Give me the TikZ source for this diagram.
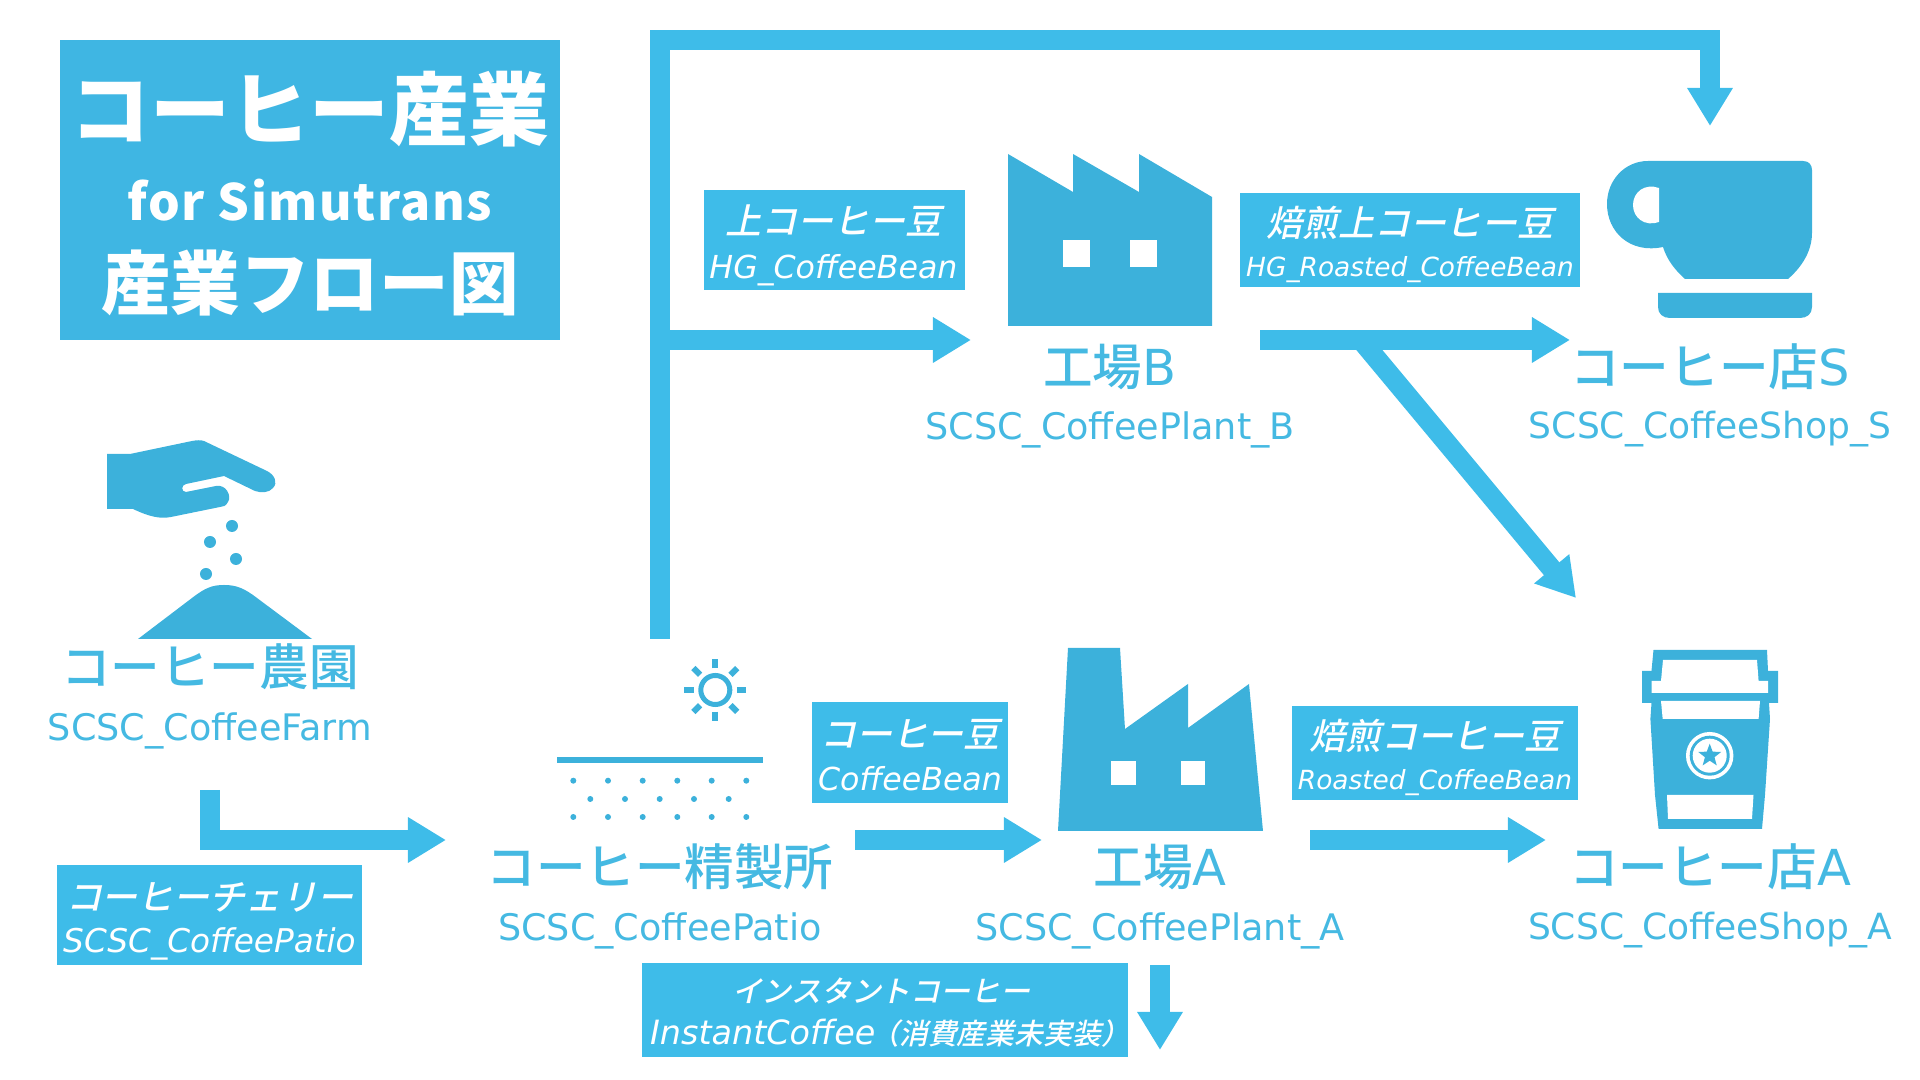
\documentclass[tikz,border=0pt]{standalone}
\usepackage{fontspec}
\setmainfont{DejaVu Sans}
\newfontfamily\cjkfont{Noto Sans CJK JP Medium}
\newfontfamily\cjktitle{Noto Sans CJK JP}
\newfontfamily\cjkslant[FakeSlant=0.22]{Noto Sans CJK JP Medium}
\newfontfamily\titlelatin[LetterSpace=3]{Noto Sans CJK JP}
\usetikzlibrary{arrows.meta, shapes.geometric}
\definecolor{sky}{HTML}{3EBCE9}
\definecolor{skybox}{HTML}{3FB6E3}
\definecolor{skyicon}{HTML}{3CB1DB}
\definecolor{skytext}{HTML}{45B9E2}
\newcommand{\subsmall}{\fontsize{7.5pt}{13pt}\selectfont}
\newcommand{\submid}{\fontsize{9pt}{13pt}\selectfont}
\tikzset{
  flow/.style={draw=sky, line width=0.2cm, -{Triangle[length=0.38cm, width=0.43cm]}},
  %
  cargobox/.style={fill=sky, inner sep=0pt},
  cargotext/.style={text=white, inner sep=0pt, align=center,
                    font=\fontsize{10.2pt}{#1}\selectfont},
  icon/.style={fill=skyicon, draw=none},
  hole/.style={fill=white, draw=none},
  %
  namelbl/.style={text=skytext, inner sep=0pt, font=\fontsize{14.1pt}{16pt}\selectfont},
  sublbl/.style={text=skytext, inner sep=0pt, font=\fontsize{10.4pt}{12pt}\selectfont},
  shoplbl/.style={sublbl, font=\fontsize{10.25pt}{12pt}\selectfont},
}
\begin{document}
\begin{tikzpicture}[x=0.01cm, y=-0.01cm]
  \useasboundingbox (0,0) rectangle (1920,1080);

  \def\F{210}    % farm
  \def\P{660}    % patio
  \def\B{1110}   % plant B
  \def\A{1160}   % plant A
  \def\S{1710}   % shops

  % --- title -------------------------------------------------------------
  \node[fill=skybox, inner sep=0pt, minimum width=5cm, minimum height=3cm] (title) at (310,190) {};
  \node[text=white, inner sep=0pt, align=center, font=\fontsize{22.7pt}{23.6pt}\selectfont]
    (titletext) at (310,193.5)
    {{\cjktitle\bfseries コーヒー産業}\\[-0.5pt]
     {\fontsize{14.2pt}{23pt}\selectfont\titlelatin\bfseries for Simutrans}\\[1.7pt]
     {\fontsize{19.8pt}{23pt}\selectfont\cjktitle\bfseries 産業フロー図}};

  % --- farm --------------------------------------------------------------
  \fill[icon] (107,454) -- (130,454) -- (192,441) .. controls (197,440) and (201,440) .. (204,441)
    -- (267,471) .. controls (275,475) and (278,483) .. (273,488)
    .. controls (269,493) and (261,493) .. (255,491) -- (224,476) -- (186,484)
    .. controls (181,485) and (181,492) .. (186,492) -- (216,486)
    .. controls (226,484) and (232,496) .. (228,502) .. controls (226,506) and (223,507) .. (220,507)
    -- (171,517) .. controls (160,519) and (150,517) .. (133,509) -- (107,509) -- cycle;
  \foreach \x/\y in {232/526, 210/542, 236/559, 206/574} { \fill[icon] (\x,\y) circle (0.06cm); }
  \fill[icon] (138,639) -- (192,598) .. controls (205,588) and (212,585) .. (224,585)
    .. controls (236,585) and (244,588) .. (257,598) -- (312,639) -- cycle;
  \node[namelbl] (farmname) at (210,667) {\cjkfont コーヒー農園};
  \node[sublbl]  (farmsub)  at (210,730.5) {SCSC\_CoffeeFarm};

  % --- patio -------------------------------------------------------------
  \draw[skyicon, line width=0.05cm] (715.3,690) circle (0.145cm);
  \foreach \a in {0,45,...,315} {
    \draw[skyicon, line width=0.06cm] (715.3,690) ++(\a:0.215cm) -- ++(\a:0.095cm);
  }
  \fill[icon] (557,757) rectangle (763,763);
  \foreach \x in {573.3,608,642.7,677.3,711.7,746.3} {
    \fill[icon] (\x,780.7) circle (0.03cm);
    \fill[icon] (\x,817) circle (0.03cm);
  }
  \foreach \x in {590.3,625,659.7,694,728.7} { \fill[icon] (\x,799) circle (0.03cm); }
  \node[namelbl] (pationame) at (\P,867) {\cjkfont コーヒー精製所};
  \node[sublbl]  (patiosub)  at (\P,930.5) {SCSC\_CoffeePatio};

  % --- plant B -----------------------------------------------------------
  \fill[icon] (1008,154) -- (1073,192) -- (1073,154) -- (1139,192) -- (1139,154) -- (1212,197)
    -- (1212,326) -- (1008,326) -- cycle;
  \fill[hole] (1063,240) rectangle (1090,267);
  \fill[hole] (1130,240) rectangle (1157,267);
  \node[namelbl] (plantbname) at (\B,367) {{\cjkfont 工場}B};
  \node[sublbl]  (plantbsub)  at (\B,429.5) {SCSC\_CoffeePlant\_B};

  % --- plant A -----------------------------------------------------------
  \fill[icon] (1068,648) -- (1120,648) -- (1125,729) -- (1188,684) -- (1188,728) -- (1249,684)
    -- (1263,831) -- (1058,831) -- cycle;
  \fill[hole] (1111,761) rectangle (1136,785);
  \fill[hole] (1181,761) rectangle (1205,785);
  \node[namelbl] (plantaname) at (\A,867) {{\cjkfont 工場}A};
  \node[sublbl]  (plantasub)  at (\A,930.5) {SCSC\_CoffeePlant\_A};

  % --- shop S ------------------------------------------------------------
  \fill[icon] (1648,161) -- (1803,161) .. controls (1809,161) and (1812,165) .. (1812,170)
    -- (1812,233) .. controls (1812,250) and (1803,266) .. (1788,279) -- (1685,279)
    .. controls (1675,270) and (1667,260) .. (1663,247)
    .. controls (1630,254) and (1607,232) .. (1607,204)
    .. controls (1607,180) and (1625,161) .. (1648,161) -- cycle;
  \fill[hole] (1659,188) .. controls (1645,183) and (1633,192) .. (1633,205)
    .. controls (1633,218) and (1645,227) .. (1659,222) -- cycle;
  \fill[icon] (1658,293) -- (1812,293) -- (1812,307) .. controls (1812,314) and (1807,318) .. (1800,318)
    -- (1670,318) .. controls (1663,318) and (1658,314) .. (1658,307) -- cycle;
  \node[namelbl] (shopsname) at (\S,367) {{\cjkfont コーヒー店}S};
  \node[shoplbl] (shopssub)  at (\S,429.5) {SCSC\_CoffeeShop\_S};

  % --- shop A ------------------------------------------------------------
  \fill[icon] (1653.5,650) -- (1767,650) -- (1768,671) -- (1778,671) -- (1778,703) -- (1769,703)
    -- (1770,719) -- (1765,795) -- (1762,829) -- (1658.6,829) -- (1655,795) -- (1650.4,719)
    -- (1651.5,703) -- (1642,703) -- (1642,671) -- (1651.5,671) -- cycle;
  \fill[hole] (1663,660) -- (1757,660) -- (1758.6,681) -- (1768,681) -- (1768,693) -- (1651.5,693)
    -- (1651.5,681) -- (1661,681) -- cycle;
  \fill[hole] (1661,701) -- (1760,701) -- (1758.6,719) -- (1662.7,719) -- cycle;
  \fill[hole] (1667,795) -- (1753.5,795) -- (1752,819) -- (1668,819) -- cycle;
  \fill[hole] (1709.7,755.7) circle (0.237cm);
  \fill[icon] (1709.7,755.7) circle (0.2cm);
  \fill[hole] (1709.7,755.7) circle (0.17cm);
  \node[star, star points=5, star point ratio=2.4, fill=skyicon, inner sep=0pt, minimum size=0.24cm]
    (shopstar) at (1709.7,755.7) {};
  \node[namelbl] (shopaname) at (\S,867) {{\cjkfont コーヒー店}A};
  \node[shoplbl] (shopasub)  at (\S,930.5) {SCSC\_CoffeeShop\_A};

  % --- cargo labels ------------------------------------------------------
  \node[cargobox, minimum width=2.61cm, minimum height=1cm] (hgbean) at (834.5,240) {};
  \node[cargotext=12.7pt] (hgbeantext) at (833.5,245.5)
    {{\cjkslant 上コーヒー豆}\\{\submid\itshape HG\_CoffeeBean}};
  \node[cargobox, minimum width=3.4cm, minimum height=0.94cm] (hgroast) at (1410,240) {};
  \node[cargotext=11.3pt] (hgroasttext) at (1410,244.3)
    {{\cjkslant 焙煎上コーヒー豆}\\{\subsmall\itshape HG\_Roasted\_CoffeeBean}};
  \node[cargobox, minimum width=1.96cm, minimum height=1.01cm] (bean) at (910,752.5) {};
  \node[cargotext=12.3pt] (beantext) at (910,755)
    {{\cjkslant コーヒー豆}\\{\submid\itshape CoffeeBean}};
  \node[cargobox, minimum width=2.86cm, minimum height=0.94cm] (roast) at (1435,753) {};
  \node[cargotext=11.3pt] (roasttext) at (1435,757.3)
    {{\cjkslant 焙煎コーヒー豆}\\{\subsmall\itshape Roasted\_CoffeeBean}};
  \node[cargobox, minimum width=3.05cm, minimum height=1cm] (cherry) at (209.5,915) {};
  \node[cargotext=12pt] (cherrytext) at (209.5,921.7)
    {{\cjkslant コーヒーチェリー}\\{\fontsize{9.3pt}{13pt}\selectfont\itshape SCSC\_CoffeePatio}};
  \node[cargobox, minimum width=4.86cm, minimum height=0.94cm] (instant) at (885,1010) {};
  \node[cargotext=12pt] (instanttext) at (890,1013)
    {{\fontsize{8.5pt}{13pt}\selectfont\cjkslant\hspace*{-5pt}インスタントコーヒー}\\
     {\fontsize{9.5pt}{13pt}\selectfont\itshape InstantCoffee}\kern-1.4pt%
     {\fontsize{8.2pt}{13pt}\selectfont\cjkslant （消費産業未実装）}};

  % --- connectors --------------------------------------------------------
  \coordinate (farmout)   at (\F,790);
  \coordinate (patioin)   at (446,840);
  \coordinate (patioup)   at (\P,639);
  \coordinate (topleft)   at (\P,40);
  \coordinate (topright)  at (\S,40);
  \coordinate (shopsin)   at (\S,126);
  \coordinate (branch)    at (\P,340);
  \coordinate (plantbin)  at (971,340);
  \coordinate (plantbout) at (1260,340);
  \coordinate (shopsleft) at (1570,340);
  \coordinate (diagstart) at (1361,340);
  \coordinate (diagtip)   at (1576,598);
  \coordinate (patioout)  at (855,840);
  \coordinate (plantain)  at (1042,840);
  \coordinate (plantaout) at (1310,840);
  \coordinate (shopain)   at (1546,840);
  \coordinate (instout)   at (1160,965);
  \coordinate (instin)    at (1160,1050);

  \draw[flow] (farmout) |- (patioin);
  \draw[flow] (patioup) -- (topleft) -- (topright) -- (shopsin);
  \draw[flow] (branch) -- (plantbin);
  \draw[flow] (plantbout) -- (shopsleft);
  \draw[flow] (diagstart) -- (diagtip);
  \draw[flow] (patioout) -- (plantain);
  \draw[flow] (plantaout) -- (shopain);
  \draw[flow] (instout) -- (instin);

\end{tikzpicture}
\end{document}
